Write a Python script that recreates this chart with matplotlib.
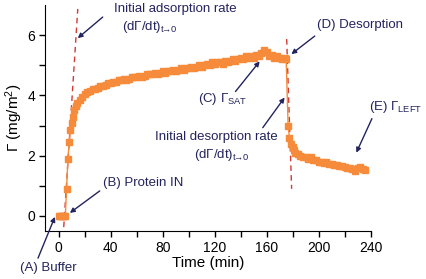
import numpy as np
import matplotlib.pyplot as plt

plt.rcParams['font.family'] = ['Liberation Sans', 'DejaVu Sans']
plt.rcParams['mathtext.fontset'] = 'custom'
plt.rcParams['mathtext.rm'] = 'Liberation Sans'
plt.rcParams['mathtext.it'] = 'Liberation Sans:italic'

# adsorption / desorption kinetics
time = [0, 1, 2, 3, 4, 5, 6, 7, 8, 9, 10, 11, 12, 13, 14, 16, 18, 20, 22, 24,
        26, 28, 30, 32, 34, 36, 38, 40, 42, 44, 46, 48, 50, 52, 54, 56, 58, 60,
        62, 64, 66, 68, 70, 72, 74, 76, 78, 80, 82, 84, 86, 88, 90, 92, 94, 96,
        98, 100, 102, 104, 106, 108, 110, 112, 114, 116, 118, 120, 122, 124,
        126, 128, 130, 132, 134, 136, 138, 140, 142, 144, 146, 148, 150, 152,
        154, 156, 158, 160, 162, 164, 166, 168, 170, 172, 174, 175,
        176.5, 177.5, 179, 180, 181, 182, 184, 186, 188, 190, 192, 194, 196,
        198, 200, 202, 204, 206, 208, 210, 212, 214, 216, 218, 220, 222, 224,
        226, 228, 230, 232, 234, 236]
gamma = [0, 0, 0, 0, 0, 0, 0.9, 1.9, 2.45, 2.85, 3.1, 3.3, 3.5, 3.65, 3.75,
         3.85, 3.95, 4.05, 4.1, 4.15, 4.2, 4.2, 4.25, 4.3, 4.3, 4.35, 4.4,
         4.4, 4.45, 4.45, 4.5, 4.5, 4.55, 4.5, 4.55, 4.6, 4.6, 4.6, 4.65, 4.6,
         4.65, 4.7, 4.7, 4.7, 4.75, 4.7, 4.75, 4.8, 4.75, 4.8, 4.8, 4.85, 4.8,
         4.85, 4.9, 4.85, 4.9, 4.9, 4.95, 4.9, 4.95, 5.0, 4.95, 5.0, 5.05, 5.0,
         5.1, 5.05, 5.1, 5.1, 5.05, 5.15, 5.1, 5.15, 5.2, 5.15, 5.2, 5.25, 5.2,
         5.3, 5.25, 5.3, 5.25, 5.35, 5.3, 5.4, 5.5, 5.45, 5.3, 5.35, 5.25, 5.3,
         5.25, 5.2, 5.25, 5.2,
         3.0, 2.6, 2.4, 2.3, 2.2, 2.1, 2.05, 2.0, 1.95, 1.95, 1.9, 1.95, 1.85,
         1.85, 1.8, 1.8, 1.75, 1.78, 1.72, 1.72, 1.7, 1.68, 1.65, 1.66, 1.62,
         1.6, 1.58, 1.55, 1.5, 1.6, 1.62, 1.55, 1.52]

# initial rate tangents (two end points each)
ads_rate_t = [3.8, 14.6]
ads_rate_g = [-0.37, 6.87]
des_rate_t = [175.4, 179.2]
des_rate_g = [5.87, 0.9]

orange = '#F68B3B'
navy = '#23235E'
red = '#D23A32'

fig = plt.figure(figsize=(4.26, 2.79), dpi=100)
ax = fig.add_axes([0.106, 0.172, 0.764, 0.81])

ax.plot(ads_rate_t, ads_rate_g, color=red, lw=1, dashes=(4, 3), zorder=1)
ax.plot(des_rate_t, des_rate_g, color=red, lw=1, dashes=(4, 3), zorder=1)
ax.plot(time, gamma, color=orange, lw=1, marker='s', ms=5, mec=orange,
        mfc=orange, zorder=2)

ax.set_xlim(-10.5, 240)
ax.set_ylim(-0.5, 7)
ax.set_xticks(np.arange(0, 241, 40))
ax.set_xticks(np.arange(0, 241, 20), minor=True)
ax.set_yticks([0, 2, 4, 6])
ax.set_yticks(np.arange(0, 7, 1), minor=True)
for s in ['top', 'right']:
    ax.spines[s].set_visible(False)
ax.tick_params(which='both', direction='out', length=4, width=1, labelsize=10,
               pad=3)
ax.set_xlabel('Time (min)', fontsize=11, labelpad=1)
ax.set_ylabel(r'$\Gamma$ (mg/m$^2$)', fontsize=11, labelpad=2)

rate_txt = r'(d$\Gamma$/dt)$_{\mathrm{t}\!\!\rightarrow\!\!\mathrm{0}}$'
fs = 9.5
ax.text(90, 6.87, 'Initial adsorption rate', color=navy, fontsize=fs,
        ha='center', va='center')
ax.text(70, 6.27, rate_txt, color=navy, fontsize=fs, ha='center', va='center')
ax.text(198.5, 6.33, '(D) Desorption', color=navy, fontsize=fs, va='center')
ax.text(107, 3.87, r'(C) $\Gamma_{\mathrm{SAT}}$', color=navy, fontsize=fs,
        va='center')
ax.text(121.5, 2.63, 'Initial desorption rate', color=navy, fontsize=fs,
        ha='center', va='center')
ax.text(125, 2.03, rate_txt, color=navy, fontsize=fs, ha='center', va='center')
ax.text(238.5, 3.6, r'(E) $\Gamma_{\mathrm{LEFT}}$', color=navy, fontsize=fs,
        va='center', clip_on=False)
ax.text(33.8, 1.1, '(B) Protein IN', color=navy, fontsize=fs, va='center')
ax.text(-30, -1.73, '(A) Buffer', color=navy, fontsize=fs, va='center',
        clip_on=False)

arrows = [((33.8, 6.6), (14.6, 5.9)),
          ((197, 5.97), (179, 5.37)),
          ((136, 4.13), (154.6, 5.13)),
          ((157, 2.93), (173.8, 3.93)),
          ((241, 3.23), (229, 2.1)),
          ((31.5, 0.83), (8.5, 0.1)),
          ((-16, -1.4), (-3, -0.03))]
for tail, head in arrows:
    ax.annotate('', xy=head, xytext=tail, annotation_clip=False,
                arrowprops=dict(arrowstyle='-|>', color=navy, lw=1,
                                mutation_scale=7, shrinkA=0, shrinkB=0))

fig.savefig('out.png', dpi=100)
